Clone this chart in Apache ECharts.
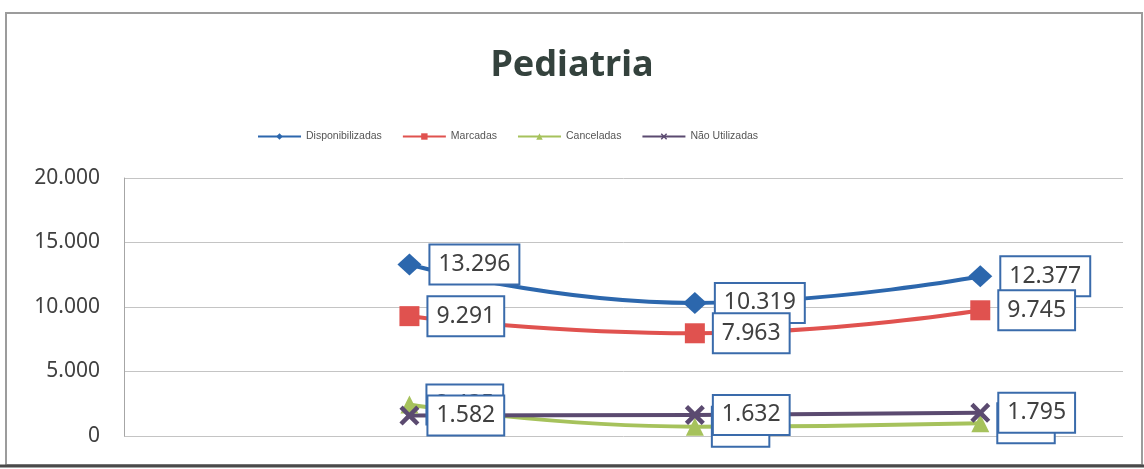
<!DOCTYPE html>
<html>
<head>
<meta charset="utf-8">
<style>
  html, body { margin: 0; padding: 0; background: #ffffff; }
  #chart { width: 1144px; height: 469px; }
</style>
<script src="https://cdn.jsdelivr.net/npm/echarts@6/dist/echarts.min.js"></script>
</head>
<body>
<div id="chart"></div>
<script>
// Three periods of appointment counts for the pediatrics clinic
const categories = ['Período 1', 'Período 2', 'Período 3'];
const disponibilizadas = [13296, 10319, 12377];
const marcadas = [9291, 7963, 9745];
const canceladas = [2435, 724, 985];
const naoUtilizadas = [1582, 1632, 1795];
const yTicks = [0, 5000, 10000, 15000, 20000];

// Brazilian thousands separator: 13296 -> "13.296"
function fmt(n) {
  return String(n).replace(/\B(?=(\d{3})+(?!\d))/g, '.');
}

const crossPath = 'path://M0,1.6L1.6,0L5,3.4L8.4,0L10,1.6L6.6,5L10,8.4L8.4,10L5,6.6L1.6,10L0,8.4L3.4,5Z';

const labelStyle = {
  show: true,
  position: 'right',
  distance: 9,
  formatter: p => fmt(p.value[1]),
  fontFamily: 'Noto Sans',
  fontSize: 23,
  color: '#404040',
  backgroundColor: '#ffffff',
  borderColor: '#3a6bab',
  borderWidth: 2,
  padding: [9, 8, 6, 8]
};

function points(values) {
  // category i sits at position i + 1 on the horizontal scale
  return values.map((v, i) => [i + 1, v]);
}

function lineSeries(name, values, color, symbol, size, width) {
  return {
    name: name,
    type: 'line',
    smooth: true,
    data: points(values),
    symbol: symbol,
    symbolSize: size,
    lineStyle: { color: color, width: width },
    itemStyle: { color: color },
    label: labelStyle,
    emphasis: { disabled: true }
  };
}

const chart = echarts.init(document.getElementById('chart'), null, { renderer: 'canvas' });
chart.setOption({
  animation: false,
  backgroundColor: '#ffffff',
  title: {
    text: 'Pediatria',
    left: 'center',
    top: 43,
    textStyle: {
      fontFamily: 'Noto Sans',
      fontWeight: 'bold',
      fontSize: 36,
      color: '#34423d'
    }
  },
  legend: {
    left: 252,
    top: 126,
    itemWidth: 43,
    itemHeight: 8,
    itemGap: 20,
    textStyle: { fontFamily: 'Liberation Sans', fontSize: 10.5, color: '#555555' },
    data: ['Disponibilizadas', 'Marcadas', 'Canceladas', 'Não Utilizadas']
  },
  grid: { left: 124, right: 21, top: 178, bottom: 33 },
  xAxis: {
    type: 'value',
    min: 0,
    max: categories.length + 0.5,
    show: false
  },
  yAxis: {
    type: 'value',
    min: yTicks[0],
    max: yTicks[yTicks.length - 1],
    interval: yTicks[1] - yTicks[0],
    axisLine: { show: true, lineStyle: { color: '#a6a6a6', width: 1 } },
    axisTick: { show: false },
    splitLine: { lineStyle: { color: '#c4c4c4', width: 1 } },
    axisLabel: {
      formatter: v => fmt(v),
      margin: 24,
      fontFamily: 'Noto Sans',
      fontSize: 21,
      color: '#404040'
    }
  },
  graphic: [
    {
      type: 'rect',
      shape: { x: 6, y: 13, width: 1136, height: 452 },
      style: { fill: null, stroke: '#9c9c9c', lineWidth: 2 },
      silent: true
    },
    {
      type: 'line',
      shape: { x1: 0, y1: 466, x2: 1144, y2: 466 },
      style: { stroke: '#4a4a4a', lineWidth: 3 },
      silent: true
    }
  ],
  series: [
    lineSeries('Disponibilizadas', disponibilizadas, '#2c67ad', 'diamond', [24, 22], 4),
    lineSeries('Marcadas', marcadas, '#e0524f', 'rect', 20, 4),
    lineSeries('Canceladas', canceladas, '#a6c25c', 'triangle', 18, 4),
    lineSeries('Não Utilizadas', naoUtilizadas, '#5b4a70', crossPath, 20, 4)
  ]
});
</script>
</body>
</html>
